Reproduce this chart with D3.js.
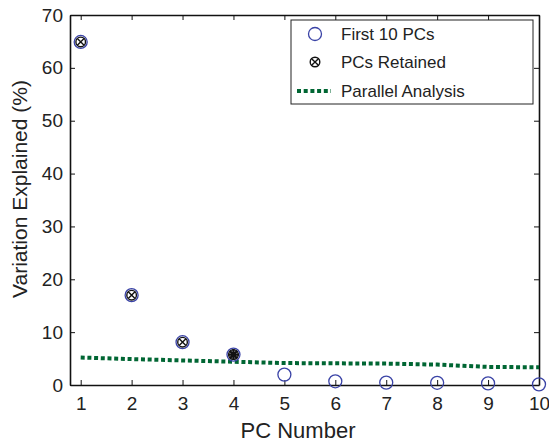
<!DOCTYPE html>
<html>
<head>
<meta charset="utf-8">
<script src="https://cdn.jsdelivr.net/npm/d3@7"></script>
<style>
  body { margin: 0; background: #fff; }
  text { font-family: "Liberation Sans", Arial, sans-serif; fill: #222; }
</style>
</head>
<body>
<div id="chart"></div>
<script>
const pcs = [1, 2, 3, 4, 5, 6, 7, 8, 9, 10];
const explained = [64.9, 17.0, 8.1, 5.75, 1.97, 0.7, 0.45, 0.42, 0.3, 0.12];
const retained = [1, 2, 3, 4];
const starred = [4];
const parallel = [5.2, 4.9, 4.65, 4.4, 4.15, 4.1, 4.05, 3.86, 3.42, 3.35];
const xTicks = [1, 2, 3, 4, 5, 6, 7, 8, 9, 10];
const yTicks = [0, 10, 20, 30, 40, 50, 60, 70];
const legendLabels = ["First 10 PCs", "PCs Retained", "Parallel Analysis"];

const W = 549, H = 444;
const margin = {top: 15, right: 10, bottom: 59, left: 70};
const width = W - margin.left - margin.right;
const height = H - margin.top - margin.bottom;

const blue = "#3a43a6";
const green = "#006633";

const svg = d3.select("#chart").append("svg")
  .attr("width", W).attr("height", H);
const g = svg.append("g")
  .attr("transform", `translate(${margin.left},${margin.top})`);

const x = d3.scaleLinear().domain([0.79, 10]).range([0, width]);
const y = d3.scaleLinear().domain([0, 70]).range([height, 0]);

// axes (ticks point inward, box mirrored)
const tickLen = 5;
g.append("g").attr("transform", `translate(0,${height})`)
  .call(d3.axisBottom(x).tickValues(xTicks).tickSize(-tickLen).tickPadding(12).tickSizeOuter(0));
g.append("g")
  .call(d3.axisLeft(y).tickValues(yTicks).tickSize(-tickLen).tickPadding(7).tickSizeOuter(0));
g.append("g")
  .call(d3.axisTop(x).tickValues(xTicks).tickSize(-tickLen).tickFormat("").tickSizeOuter(0));
g.append("g").attr("transform", `translate(${width},0)`)
  .call(d3.axisRight(y).tickValues(yTicks).tickSize(-tickLen).tickFormat("").tickSizeOuter(0));

g.selectAll(".domain").attr("stroke", "#111").attr("stroke-width", 1.6);
g.selectAll(".tick line").attr("stroke", "#111").attr("stroke-width", 1);
g.selectAll(".tick text").attr("font-size", 19).attr("fill", "#222")
  .attr("font-family", "Liberation Sans, Arial, sans-serif");

// axis labels
svg.append("text")
  .attr("x", 298).attr("y", 438)
  .attr("text-anchor", "middle").attr("font-size", 22)
  .text("PC Number");
svg.append("text")
  .attr("transform", "translate(27,189) rotate(-90)")
  .attr("text-anchor", "middle").attr("font-size", 21)
  .text("Variation Explained (%)");

// parallel analysis line
g.append("path")
  .datum(pcs.map((p, i) => [p, parallel[i]]))
  .attr("fill", "none").attr("stroke", green)
  .attr("stroke-width", 4).attr("stroke-dasharray", "4 2.7")
  .attr("d", d3.line().x(d => x(d[0])).y(d => y(d[1])));

// symbols
function crossCircle(sel, r) {
  sel.append("circle").attr("r", r).attr("fill", "none")
    .attr("stroke", "#111").attr("stroke-width", 1.4);
  const k = r * 0.7;
  sel.append("path").attr("d", `M${-k},${-k}L${k},${k}M${-k},${k}L${k},${-k}`)
    .attr("stroke", "#111").attr("stroke-width", 1.4);
}
function asterisk(sel, r) {
  const k = r * 0.7;
  sel.append("path")
    .attr("d", `M${-r},0L${r},0M0,${-r}L0,${r}M${-k},${-k}L${k},${k}M${-k},${k}L${k},${-k}`)
    .attr("stroke", "#111").attr("stroke-width", 2.2);
}

const pts = g.selectAll(".pt").data(pcs.map((p, i) => ({p, v: explained[i]})))
  .enter().append("g").attr("class", "pt")
  .attr("transform", d => `translate(${x(d.p)},${y(d.v)})`);
pts.append("circle").attr("r", 6.5).attr("fill", "none")
  .attr("stroke", blue).attr("stroke-width", 1.3);
pts.filter(d => retained.includes(d.p)).each(function () { crossCircle(d3.select(this), 4.8); });
pts.filter(d => starred.includes(d.p)).each(function () { asterisk(d3.select(this), 5.5); });

// legend
const lg = svg.append("g").attr("transform", "translate(291,20)");
lg.append("rect").attr("width", 242).attr("height", 84)
  .attr("fill", "#fff").attr("stroke", "#222").attr("stroke-width", 1);
const rowY = [14, 42, 71];
lg.append("circle").attr("cx", 24).attr("cy", rowY[0]).attr("r", 6.5)
  .attr("fill", "none").attr("stroke", blue).attr("stroke-width", 1.3);
crossCircle(lg.append("g").attr("transform", `translate(24,${rowY[1]})`), 4.8);
lg.append("line").attr("x1", 6).attr("x2", 40).attr("y1", rowY[2]).attr("y2", rowY[2])
  .attr("stroke", green).attr("stroke-width", 4).attr("stroke-dasharray", "4 2.7");
lg.selectAll(".lt").data(legendLabels).enter().append("text")
  .attr("x", 50).attr("y", (d, i) => rowY[i] + 6)
  .attr("font-size", 17).text(d => d);
</script>
</body>
</html>
